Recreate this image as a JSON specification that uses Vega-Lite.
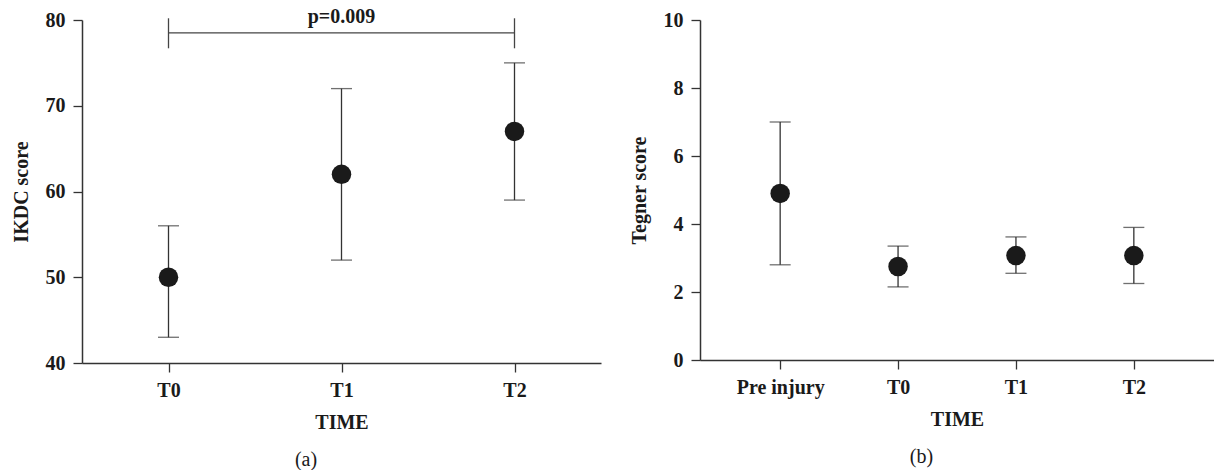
{
  "$schema": "https://vega.github.io/schema/vega-lite/v6.json",
  "padding": {"left": 11, "top": 6, "right": 0, "bottom": 0},
  "background": "white",
  "datasets": {
    "ikdc": [
      {"time": "T0", "mean": 50, "lo": 43, "hi": 56},
      {"time": "T1", "mean": 62, "lo": 52, "hi": 72},
      {"time": "T2", "mean": 67, "lo": 59, "hi": 75}
    ],
    "tegner": [
      {"time": "Pre injury", "mean": 4.9, "lo": 2.8, "hi": 7.0},
      {"time": "T0", "mean": 2.75, "lo": 2.15, "hi": 3.35},
      {"time": "T1", "mean": 3.07, "lo": 2.55, "hi": 3.62},
      {"time": "T2", "mean": 3.07, "lo": 2.25, "hi": 3.9}
    ],
    "bracket": [
      {"from": "T0", "to": "T2", "y": 78.5, "label": "p=0.009", "mid": "T1"}
    ],
    "bracketEnds": [
      {"time": "T0", "lo": 76.7, "hi": 80.2},
      {"time": "T2", "lo": 76.7, "hi": 80.2}
    ]
  },
  "config": {
    "view": {"stroke": null},
    "axis": {
      "grid": false,
      "labelFont": "Liberation Serif",
      "labelFontSize": 20,
      "labelFontWeight": "bold",
      "labelColor": "#1a1a1a",
      "titleFont": "Liberation Serif",
      "titleFontSize": 20,
      "titleFontWeight": "bold",
      "titleColor": "#1a1a1a",
      "tickColor": "#333333",
      "domainColor": "#333333",
      "tickSize": 9,
      "tickWidth": 1.3,
      "domainWidth": 1.5,
      "labelPadding": 8
    },
    "title": {
      "font": "Liberation Serif",
      "fontSize": 20,
      "fontWeight": "normal",
      "color": "#1a1a1a",
      "orient": "bottom",
      "anchor": "middle",
      "frame": "bounds",
      "offset": 18
    }
  },
  "spacing": 28,
  "hconcat": [
    {
      "width": 519,
      "height": 343,
      "title": {"text": "(a)"},
      "layer": [
        {
          "data": {"name": "ikdc"},
          "mark": {"type": "rule", "color": "#333333", "strokeWidth": 1.3},
          "encoding": {
            "x": {"field": "time", "type": "nominal", "scale": {"type": "point", "padding": 0.5, "domain": ["T0", "T1", "T2"]},
              "axis": {"title": "TIME", "labelAngle": 0, "titlePadding": 12}},
            "y": {"field": "lo", "type": "quantitative", "scale": {"domain": [40, 80], "nice": false, "zero": false},
              "axis": {"title": "IKDC score", "values": [40, 50, 60, 70, 80], "titlePadding": 14}},
            "y2": {"field": "hi"}
          }
        },
        {
          "data": {"name": "ikdc"},
          "mark": {"type": "tick", "color": "#333333", "size": 21, "thickness": 1.3, "orient": "horizontal"},
          "encoding": {
            "x": {"field": "time", "type": "nominal"},
            "y": {"field": "lo", "type": "quantitative"}
          }
        },
        {
          "data": {"name": "ikdc"},
          "mark": {"type": "tick", "color": "#333333", "size": 21, "thickness": 1.3, "orient": "horizontal"},
          "encoding": {
            "x": {"field": "time", "type": "nominal"},
            "y": {"field": "hi", "type": "quantitative"}
          }
        },
        {
          "data": {"name": "ikdc"},
          "mark": {"type": "point", "filled": true, "color": "#1a1a1a", "size": 380, "opacity": 1},
          "encoding": {
            "x": {"field": "time", "type": "nominal"},
            "y": {"field": "mean", "type": "quantitative"}
          }
        },
        {
          "data": {"name": "bracket"},
          "mark": {"type": "rule", "color": "#444444", "strokeWidth": 1.3},
          "encoding": {
            "x": {"field": "from", "type": "nominal"},
            "x2": {"field": "to"},
            "y": {"field": "y", "type": "quantitative"}
          }
        },
        {
          "data": {"name": "bracketEnds"},
          "mark": {"type": "rule", "color": "#444444", "strokeWidth": 1.3},
          "encoding": {
            "x": {"field": "time", "type": "nominal"},
            "y": {"field": "lo", "type": "quantitative"},
            "y2": {"field": "hi"}
          }
        },
        {
          "data": {"name": "bracket"},
          "mark": {"type": "text", "font": "Liberation Serif", "fontSize": 20, "fontWeight": "bold", "color": "#1a1a1a", "baseline": "bottom", "dy": -6},
          "encoding": {
            "x": {"field": "mid", "type": "nominal"},
            "y": {"field": "y", "type": "quantitative"},
            "text": {"field": "label"}
          }
        }
      ]
    },
    {
      "width": 514,
      "height": 340,
      "title": {"text": "(b)"},
      "layer": [
        {
          "data": {"name": "tegner"},
          "mark": {"type": "rule", "color": "#333333", "strokeWidth": 1.3},
          "encoding": {
            "x": {"field": "time", "type": "nominal", "scale": {"type": "point", "padding": 0.68, "domain": ["Pre injury", "T0", "T1", "T2"]},
              "axis": {"title": "TIME", "labelAngle": 0, "titlePadding": 12}},
            "y": {"field": "lo", "type": "quantitative", "scale": {"domain": [0, 10], "nice": false},
              "axis": {"title": "Tegner score", "values": [0, 2, 4, 6, 8, 10], "titlePadding": 14}},
            "y2": {"field": "hi"}
          }
        },
        {
          "data": {"name": "tegner"},
          "mark": {"type": "tick", "color": "#333333", "size": 21, "thickness": 1.3, "orient": "horizontal"},
          "encoding": {
            "x": {"field": "time", "type": "nominal"},
            "y": {"field": "lo", "type": "quantitative"}
          }
        },
        {
          "data": {"name": "tegner"},
          "mark": {"type": "tick", "color": "#333333", "size": 21, "thickness": 1.3, "orient": "horizontal"},
          "encoding": {
            "x": {"field": "time", "type": "nominal"},
            "y": {"field": "hi", "type": "quantitative"}
          }
        },
        {
          "data": {"name": "tegner"},
          "mark": {"type": "point", "filled": true, "color": "#1a1a1a", "size": 380, "opacity": 1},
          "encoding": {
            "x": {"field": "time", "type": "nominal"},
            "y": {"field": "mean", "type": "quantitative"}
          }
        }
      ]
    }
  ]
}
